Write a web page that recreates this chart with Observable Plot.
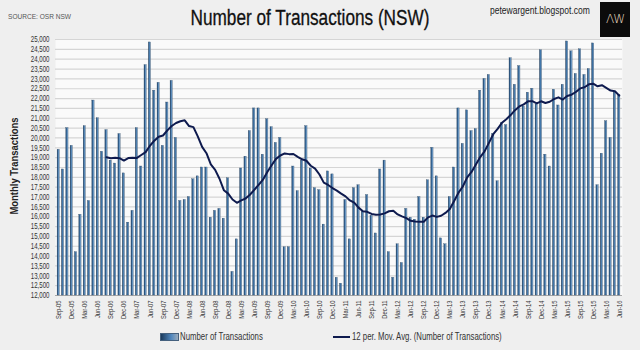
<!DOCTYPE html>
<html>
<head>
<meta charset="utf-8">
<script src="https://cdn.jsdelivr.net/npm/d3@7"></script>
<script src="https://cdn.jsdelivr.net/npm/@observablehq/plot@0.6"></script>
<style>
  html, body { margin: 0; padding: 0; background: #efefef; }
  #wrap { position: relative; width: 640px; height: 350px; overflow: hidden; background: #efefef;
          font-family: "Liberation Sans", Arial, sans-serif; }
  #chart { position: absolute; left: 0; top: 0; }
  .abs { position: absolute; white-space: nowrap; }
  #title { left: 310px; top: 6px; font-size: 21.5px; color: #111; transform: translateX(-50%) scaleX(0.8); -webkit-text-stroke: 0.3px #111; }
  #source { left: 8px; top: 12px; font-size: 8px; color: #555; transform-origin: left center; transform: scaleX(0.82); }
  #site { left: 490px; top: 4px; font-size: 11.5px; color: #222; transform-origin: left center; transform: scaleX(0.74); }
  #logo { left: 600px; top: 2px; width: 30px; height: 35px; background: #0b0b0b; color: #e6dcc0;
          font-size: 12px; text-align: center; line-height: 35px; font-family: "DejaVu Sans", sans-serif; font-weight: 200; letter-spacing: -1px; }
  #ylabel { left: 14px; top: 166px; transform: translate(-50%, -50%) rotate(-90deg) scaleX(0.9); font-size: 10.5px; font-weight: bold; color: #222; }
  #legend { left: 0; top: 330px; width: 640px; height: 16px; font-size: 10px; color: #333; }
  .lg { position: absolute; top: 1px; display: flex; align-items: center; }
  .lg span.t { display: inline-block; transform-origin: left center; transform: scaleX(0.78); }
  .sw-bar { width: 17px; height: 6px; border: 1px solid #44607e; background: linear-gradient(to right, #1b3a5c, #4f86bd 60%, #9aaabb); margin-right: 1px; }
  .sw-line { width: 17px; height: 2px; background: #0e1a4e; margin-right: 2px; }
</style>
</head>
<body>
<div id="wrap">
  <div id="chart"></div>
  <div class="abs" id="title">Number of Transactions (NSW)</div>
  <div class="abs" id="source">SOURCE: OSR NSW</div>
  <div class="abs" id="site">petewargent.blogspot.com</div>
  <div class="abs" id="logo">ΛW</div>
  <div class="abs" id="ylabel">Monthly Transactions</div>
  <div class="abs" id="legend">
    <div class="lg" style="left:160px"><span class="sw-bar"></span><span class="t">Number of Transactions</span></div>
    <div class="lg" style="left:333px"><span class="sw-line"></span><span class="t">12 per. Mov. Avg. (Number of Transactions)</span></div>
  </div>
</div>
<script>
const months = [
  "Sep-05","Oct-05","Nov-05","Dec-05",
  "Jan-06","Feb-06","Mar-06","Apr-06","May-06","Jun-06","Jul-06","Aug-06","Sep-06","Oct-06","Nov-06","Dec-06",
  "Jan-07","Feb-07","Mar-07","Apr-07","May-07","Jun-07","Jul-07","Aug-07","Sep-07","Oct-07","Nov-07","Dec-07",
  "Jan-08","Feb-08","Mar-08","Apr-08","May-08","Jun-08","Jul-08","Aug-08","Sep-08","Oct-08","Nov-08","Dec-08",
  "Jan-09","Feb-09","Mar-09","Apr-09","May-09","Jun-09","Jul-09","Aug-09","Sep-09","Oct-09","Nov-09","Dec-09",
  "Jan-10","Feb-10","Mar-10","Apr-10","May-10","Jun-10","Jul-10","Aug-10","Sep-10","Oct-10","Nov-10","Dec-10",
  "Jan-11","Feb-11","Mar-11","Apr-11","May-11","Jun-11","Jul-11","Aug-11","Sep-11","Oct-11","Nov-11","Dec-11",
  "Jan-12","Feb-12","Mar-12","Apr-12","May-12","Jun-12","Jul-12","Aug-12","Sep-12","Oct-12","Nov-12","Dec-12",
  "Jan-13","Feb-13","Mar-13","Apr-13","May-13","Jun-13","Jul-13","Aug-13","Sep-13","Oct-13","Nov-13","Dec-13",
  "Jan-14","Feb-14","Mar-14","Apr-14","May-14","Jun-14","Jul-14","Aug-14","Sep-14","Oct-14","Nov-14","Dec-14",
  "Jan-15","Feb-15","Mar-15","Apr-15","May-15","Jun-15","Jul-15","Aug-15","Sep-15","Oct-15","Nov-15","Dec-15",
  "Jan-16","Feb-16","Mar-16","Apr-16","May-16","Jun-16"
];

const transactions = [
  19400,18400,20500,19600,14200,16100,20600,16800,21900,21000,19300,20400,18850,18700,20200,18200,15700,16300,20500,18550,23700,24850,
  22400,22800,19600,21800,22900,20000,16800,16850,17000,17900,18050,18500,18500,15950,16300,16400,15900,17950,13200,14850,18450,19050,
  20350,21500,21500,19150,20950,20550,19750,20000,14450,14450,18550,17300,18850,20600,18450,17450,17350,15600,18300,18150,12900,12600,
  16850,14850,17450,17600,16250,17100,16050,15150,18400,18850,14200,12900,14600,13650,16400,15950,15850,17000,15950,17850,19500,
  18050,14900,14600,17000,18500,21500,19700,21400,20350,20450,22400,23000,23200,20200,17800,20750,20650,24050,22700,23650,21600,22300,
  22500,21700,24450,19150,18550,22450,21650,22700,24900,24400,23250,24500,23200,23500,24800,17600,19200,20850,20000,22300,22200
];

const xTickLabels = months.filter((m, i) => i % 3 === 0);
const yTicks = d3.range(12000, 25001, 500);

const data = months.map((m, i) => ({month: m, value: transactions[i]}));

const chart = Plot.plot({
  width: 640,
  height: 350,
  marginTop: 39,
  marginBottom: 55,
  marginLeft: 55,
  marginRight: 18,
  style: {background: "transparent", fontFamily: '"Liberation Sans", Arial, sans-serif', fontSize: "8.5px", color: "#333"},
  x: {type: "band", domain: months, padding: 0.48, ticks: xTickLabels, tickRotate: -90, tickSize: 0, tickPadding: 5, label: null},
  y: {domain: [12000, 25000], ticks: yTicks, tickFormat: d3.format(",.0f"), tickSize: 0, tickPadding: 6, label: null},
  marks: [
    Plot.frame({fill: "#fafafa", stroke: "none"}),
    Plot.ruleY(yTicks.slice(1), {stroke: "#d5d5d5", strokeWidth: 1.2}),
    Plot.ruleY([12000], {stroke: "#a8a8a8", strokeWidth: 1}),
    Plot.barY(data, {x: "month", y1: 12000, y2: "value", fill: "url(#barGrad)", stroke: "#2a4764", strokeWidth: 0.3}),
    Plot.lineY(data, Plot.windowY({k: 12, anchor: "end", reduce: "mean", strict: true},
      {x: "month", y: "value", stroke: "#0e1a4e", strokeWidth: 2}))
  ]
});

const defs = d3.select(chart).insert("defs", ":first-child");
const g = defs.append("linearGradient").attr("id", "barGrad").attr("x1", "0").attr("x2", "1").attr("y1", "0").attr("y2", "0");
g.append("stop").attr("offset", "0%").attr("stop-color", "#1b3a5c");
g.append("stop").attr("offset", "45%").attr("stop-color", "#3e74a8");
g.append("stop").attr("offset", "75%").attr("stop-color", "#6f9bc6");
g.append("stop").attr("offset", "100%").attr("stop-color", "#93a6ba");

document.getElementById("chart").append(chart);

// x tick labels: slightly smaller type
d3.select(chart).selectAll("g[aria-label='x-axis'] text, g[aria-label='x-axis tick label'] text").attr("font-size", "8px");

// condense tick labels to mimic a narrow typeface
d3.select(chart).selectAll("g[aria-label$='axis'] text, g[aria-label*='tick label'] text").each(function () {
  const len = this.getComputedTextLength();
  if (len > 0) {
    this.setAttribute("textLength", (len * 0.72).toFixed(2));
    this.setAttribute("lengthAdjust", "spacingAndGlyphs");
  }
});
</script>
</body>
</html>
